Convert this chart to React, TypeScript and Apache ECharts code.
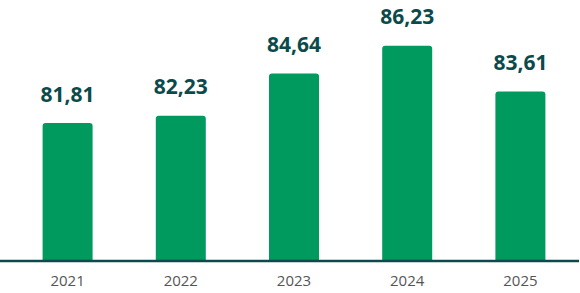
import React, { useEffect, useRef } from "react";
import * as echarts from "echarts";

const categories = ["2021", "2022", "2023", "2024", "2025"];
const values = [81.81, 82.23, 84.64, 86.23, 83.61];

export default function App() {
  const ref = useRef<HTMLDivElement>(null);
  useEffect(() => {
    document.body.style.margin = "0";
    const chart = echarts.init(ref.current!, null, { renderer: "svg" });
    chart.setOption({
      animation: false,
      grid: { left: 11, right: 3, top: 0, bottom: 32 },
      xAxis: {
        type: "category",
        data: categories,
        axisLine: { show: false },
        axisTick: { show: false },
        axisLabel: {
          color: "#555",
          fontSize: 15,
          fontFamily: "Open Sans",
          margin: 11,
        },
      },
      yAxis: {
        type: "value",
        min: 73.93,
        max: 88.84,
        show: false,
        splitLine: { show: false },
      },
      graphic: [
        {
          type: "line",
          shape: { x1: 0, y1: 261, x2: 579, y2: 261 },
          style: { stroke: "#0d4a4b", lineWidth: 2.5 },
          z: 10,
        },
      ],
      series: [
        {
          type: "bar",
          data: values,
          barWidth: 50,
          itemStyle: { color: "#009a5e", borderRadius: [3, 3, 0, 0] },
          label: {
            show: true,
            position: "top",
            distance: 19,
            color: "#0b4a4b",
            fontSize: 21,
            fontWeight: "bold",
            fontFamily: "Open Sans",
            formatter: (p: any) => p.value.toFixed(2).replace(".", ","),
          },
        },
      ],
    });
    return () => chart.dispose();
  }, []);
  return <div ref={ref} style={{ width: 580, height: 293 }} />;
}
